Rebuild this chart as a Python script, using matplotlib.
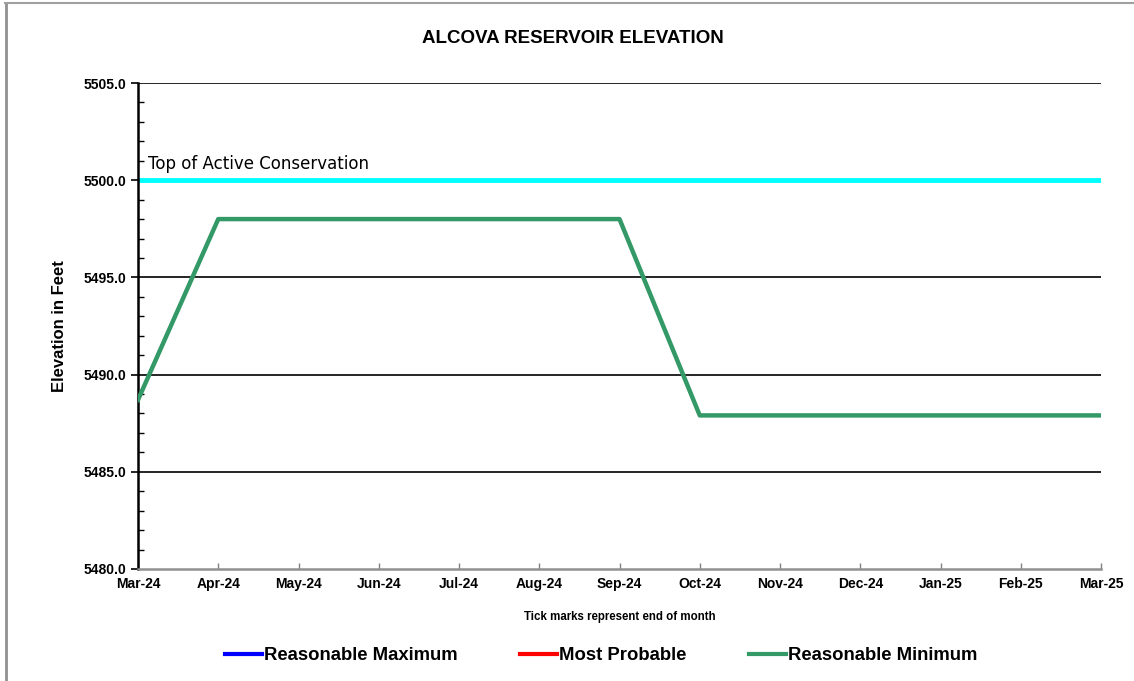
import numpy as np
import matplotlib
matplotlib.use("Agg")
import matplotlib.pyplot as plt
from matplotlib.lines import Line2D
from matplotlib.ticker import MultipleLocator

plt.rcParams["font.family"] = ["Liberation Sans", "DejaVu Sans"]

months = ["Mar-24", "Apr-24", "May-24", "Jun-24", "Jul-24", "Aug-24", "Sep-24",
          "Oct-24", "Nov-24", "Dec-24", "Jan-25", "Feb-25", "Mar-25"]
reasonable_max = [5488.7, 5498.0, 5498.0, 5498.0, 5498.0, 5498.0, 5498.0,
                  5487.9, 5487.9, 5487.9, 5487.9, 5487.9, 5487.9]
most_probable = [5488.7, 5498.0, 5498.0, 5498.0, 5498.0, 5498.0, 5498.0,
                 5487.9, 5487.9, 5487.9, 5487.9, 5487.9, 5487.9]
reasonable_min = [5488.7, 5498.0, 5498.0, 5498.0, 5498.0, 5498.0, 5498.0,
                  5487.9, 5487.9, 5487.9, 5487.9, 5487.9, 5487.9]
top_of_active = 5500.0

x = np.arange(len(months))

fig = plt.figure(figsize=(11.34, 6.81), dpi=100)
ax = fig.add_axes([0.1217, 0.1645, 0.8492, 0.7136])

# chart border, only top and left edges show in the original
fig.lines.append(Line2D([0.0055, 0.0055], [0, 0.996], transform=fig.transFigure,
                        color="#909090", linewidth=2))
fig.lines.append(Line2D([0.0045, 1.0], [0.9955, 0.9955], transform=fig.transFigure,
                        color="#a0a0a0", linewidth=1.5))

ax.set_xlim(0, 12)
ax.set_ylim(5480, 5505)

for yv in [5485, 5490, 5495, 5505]:
    ax.axhline(yv, color="black", linewidth=1.2, zorder=1)

ax.axhline(top_of_active, color="#00ffff", linewidth=3.5, zorder=2)
ax.text(0.12, top_of_active + 0.35, "Top of Active Conservation", fontsize=12,
        family=["DejaVu Sans"], va="bottom", ha="left")

# max and most probable sit under the minimum curve
ax.plot(x, reasonable_max, color="#0000ff", linewidth=2, zorder=3)
ax.plot(x, most_probable, color="#ff0000", linewidth=2, zorder=4)
ax.plot(x, reasonable_min, color="#339966", linewidth=3.2, zorder=5)

ax.set_xticks(x)
ax.set_xticklabels(months, fontsize=10, fontweight="bold")
ax.yaxis.set_major_locator(MultipleLocator(5))
ax.yaxis.set_minor_locator(MultipleLocator(1))
ax.set_yticklabels([f"{v:.1f}" for v in ax.get_yticks()], fontsize=10, fontweight="bold")
ax.tick_params(axis="y", which="major", direction="out", length=5, width=1.2)
ax.tick_params(axis="y", which="minor", direction="in", length=4, width=1)
ax.tick_params(axis="x", direction="in", length=4, width=1, color="#808080", pad=6)

for s in ["top", "right"]:
    ax.spines[s].set_visible(False)
ax.spines["left"].set_linewidth(1.8)
ax.spines["bottom"].set_color("#909090")
ax.spines["bottom"].set_linewidth(1.8)

ax.set_ylabel("Elevation in Feet", fontsize=12, fontweight="bold", labelpad=12)
ax.set_xlabel("Tick marks represent end of month", fontsize=8.3, fontweight="bold", labelpad=14)
fig.text(0.5055, 0.943, "ALCOVA RESERVOIR ELEVATION", ha="center", va="center",
         fontsize=13.5, fontweight="bold")

handles = [Line2D([], [], color="#0000ff", linewidth=3),
           Line2D([], [], color="#ff0000", linewidth=3),
           Line2D([], [], color="#339966", linewidth=3)]
fig.legend(handles, ["Reasonable Maximum", "Most Probable", "Reasonable Minimum"],
           loc="center", bbox_to_anchor=(0.53, 0.037), ncol=3, frameon=False,
           prop={"size": 13.3, "weight": "bold"}, handlelength=2.0, handletextpad=0.1,
           columnspacing=3.4)

fig.savefig("out.png", dpi=100)
